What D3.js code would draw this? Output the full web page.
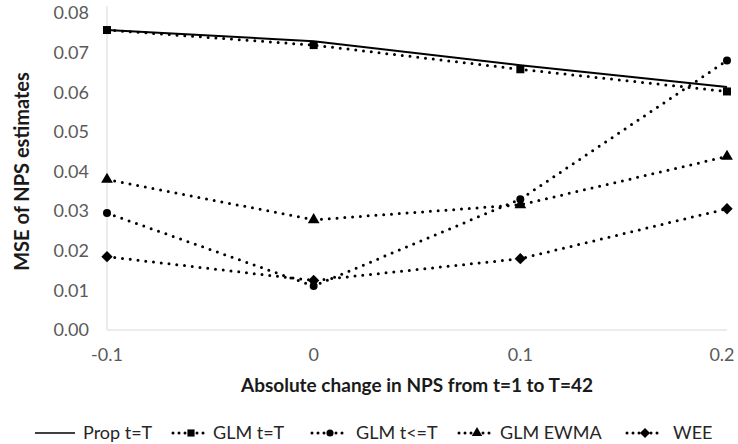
<!DOCTYPE html>
<html>
<head>
<meta charset="utf-8">
<script src="https://cdn.jsdelivr.net/npm/d3@7"></script>
<style>
  html, body { margin: 0; padding: 0; background: #fff; }
  svg { display: block; font-family: Lato, "Open Sans", sans-serif; }
</style>
</head>
<body>
<svg id="chart" width="738" height="444"></svg>
<script>
// Categories on the x axis (absolute change in NPS)
const categories = ["-0.1", "0", "0.1", "0.2"];

// MSE of NPS estimates per method
const propT     = [0.0757, 0.0729, 0.0668, 0.0613];
const glmT      = [0.0757, 0.0719, 0.0658, 0.0602];
const glmTle    = [0.0295, 0.0111, 0.0330, 0.0680];
const glmEwma   = [0.0380, 0.0278, 0.0316, 0.0438];
const wee       = [0.0185, 0.0125, 0.0180, 0.0306];

const yTicks = [0, 0.01, 0.02, 0.03, 0.04, 0.05, 0.06, 0.07, 0.08];

const seriesNames = ["Prop t=T", "GLM t=T", "GLM t<=T", "GLM EWMA", "WEE"];
const seriesValues = [propT, glmT, glmTle, glmEwma, wee];
const seriesMarkers = [null, d3.symbolSquare, d3.symbolCircle, d3.symbolTriangle, d3.symbolSquare];
const markerSizes = [0, 64, 50, 60, 64];
const markerRotation = [0, 0, 0, 0, 45];
const seriesDotted = [false, true, true, true, true];

const svg = d3.select("#chart");

const x = d3.scalePoint().domain(categories).range([107, 727]);
const y = d3.scaleLinear().domain([0, 0.08]).range([330, 13]);

// Axis lines
svg.append("line")
  .attr("x1", x(categories[0])).attr("x2", x(categories[0]))
  .attr("y1", y(0.08) - 7).attr("y2", y(0))
  .attr("stroke", "#d9d9d9").attr("stroke-width", 1);
svg.append("line")
  .attr("x1", x(categories[0])).attr("x2", x(categories[categories.length - 1]))
  .attr("y1", y(0)).attr("y2", y(0))
  .attr("stroke", "#d9d9d9").attr("stroke-width", 1);

// Y tick labels
svg.append("g").selectAll("text").data(yTicks).join("text")
  .attr("x", 89).attr("y", d => y(d))
  .attr("dy", "0.35em")
  .attr("text-anchor", "end")
  .attr("font-size", 18)
  .attr("fill", "#595959")
  .text(d => d3.format(".2f")(d));

// X tick labels (last one kept inside the right edge)
svg.append("g").selectAll("text").data(categories).join("text")
  .attr("x", d => Math.min(x(d), 722)).attr("y", 355)
  .attr("dy", "0.35em")
  .attr("text-anchor", "middle")
  .attr("font-size", 18)
  .attr("fill", "#595959")
  .text(d => d);

// Axis titles
svg.append("text")
  .attr("x", (x.range()[0] + x.range()[1]) / 2).attr("y", 385)
  .attr("dy", "0.35em")
  .attr("text-anchor", "middle")
  .attr("font-size", 19).attr("font-weight", "bold")
  .attr("fill", "#1a1a1a")
  .text("Absolute change in NPS from t=1 to T=42");

svg.append("text")
  .attr("transform", `translate(22, ${(y(0) + y(0.08)) / 2}) rotate(-90)`)
  .attr("dy", "0.35em")
  .attr("text-anchor", "middle")
  .attr("font-size", 20).attr("font-weight", "bold")
  .attr("fill", "#1a1a1a")
  .text("MSE of NPS estimates");

const line = d3.line().x((d, i) => x(categories[i])).y(d => y(d));

function styleLine(sel, dotted) {
  if (dotted) {
    sel.attr("stroke", "#000").attr("stroke-width", 3)
      .attr("stroke-linecap", "round")
      .attr("stroke-dasharray", "0 7.8");
  } else {
    sel.attr("stroke", "#000").attr("stroke-width", 2);
  }
  return sel;
}

// Series lines and markers
seriesValues.forEach((vals, s) => {
  const g = svg.append("g");
  styleLine(g.append("path").datum(vals).attr("d", line).attr("fill", "none"), seriesDotted[s]);
  if (seriesMarkers[s]) {
    g.selectAll("path.m").data(vals).join("path")
      .attr("class", "m")
      .attr("transform", (d, i) => `translate(${x(categories[i])},${y(d)}) rotate(${markerRotation[s]})`)
      .attr("d", d3.symbol().type(seriesMarkers[s]).size(markerSizes[s]))
      .attr("fill", "#000");
  }
});

// Legend
const legendY = 433;
const legendItems = [
  { x: 35, text: 83 },
  { x: 173, text: 213 },
  { x: 312, text: 356 },
  { x: 459, text: 500 },
  { x: 627, text: 673 }
];
seriesNames.forEach((name, s) => {
  const it = legendItems[s];
  const g = svg.append("g");
  if (seriesDotted[s]) {
    const x0 = it.x, x1 = it.x + 36;
    styleLine(g.append("line")
      .attr("x1", x0).attr("x2", x1).attr("y1", legendY).attr("y2", legendY), true)
      .attr("stroke-dasharray", "0 6");
    g.append("path")
      .attr("transform", `translate(${(x0 + x1) / 2},${legendY}) rotate(${markerRotation[s]})`)
      .attr("d", d3.symbol().type(seriesMarkers[s]).size(markerSizes[s] * 0.8))
      .attr("fill", "#000");
  } else {
    styleLine(g.append("line")
      .attr("x1", it.x).attr("x2", it.x + 40).attr("y1", legendY).attr("y2", legendY), false)
      .attr("stroke-width", 1.5);
  }
  g.append("text")
    .attr("x", it.text).attr("y", legendY)
    .attr("dy", "0.35em")
    .attr("font-size", 18)
    .attr("fill", "#262626")
    .text(name);
});
</script>
</body>
</html>
